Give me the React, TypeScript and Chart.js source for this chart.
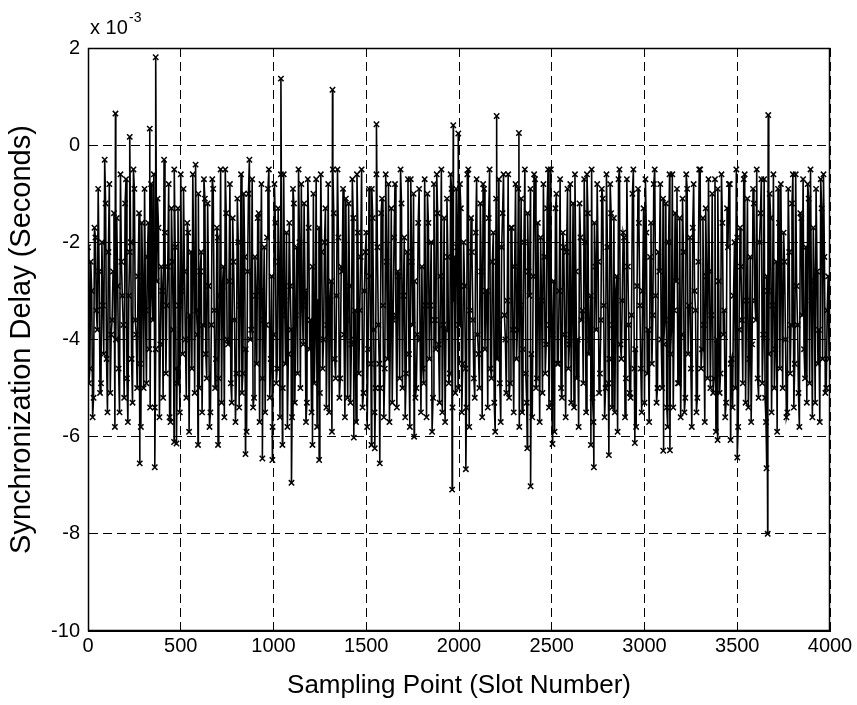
import React, { useEffect, useRef } from "react";
import { Chart, registerables } from "chart.js";

Chart.register(...registerables);

// Synchronization delay, in units of 1e-3 s.
// baseDelays: slots 0, 10, 20, ... 3990; midDelays: slots 5, 15, 25, ... 3995
const SLOT_STEP = 10;
const MID_OFFSET = 5;
const baseDelays: number[] = [
  -2.1, -4.6, -3.0, -5.2, -1.9, -3.8, -2.6, -4.9, -3.3, -0.3, -4.4, -2.2, -5.1, -3.6, -1.4, -4.0, -2.9, -5.5, -2.4, -3.7,
  -1.2, -4.8, -3.1, -2.0, -5.3, -0.9, -3.9, -2.7, -4.5, -1.6, -5.0, -3.4, -2.3, -4.2, -0.8, -3.6, -5.4, -2.8, -1.7, -4.1,
  -3.0, -0.3, -4.7, -2.5, -5.6, -1.3, -3.8, -2.1, -4.9, -3.3, -0.6, -4.3, -2.6, -5.2, -1.8, -3.5, -4.6, -2.4, -0.4, -3.9,
  -5.0, -2.2, -3.7, -1.1, -4.8, -2.9, -5.5, -0.7, -3.4, -4.4, -1.9, -3.1, -5.3, -2.5, -0.5, -4.0, -2.8, -4.9, -1.5, -3.6,
  -4.7, -2.0, -3.3, -5.1, -1.0, -4.2, -2.6, -0.3, -3.8, -5.4, -2.3, -4.5, -1.4, -3.0, -4.8, -2.1, -3.7, -0.9, -5.2, -2.7,
  -3.9, -1.6, -4.6, -2.4, -0.6, -5.0, -3.2, -1.8, -4.3, -2.9, -5.6, -1.2, -3.5, -4.7, -2.0, -0.8, -4.1, -3.0, -5.3, -1.7,
  -3.6, -2.5, -4.9, -0.7, -3.2, -5.1, -2.2, -4.0, -1.3, -3.7, -5.5, -2.8, -0.5, -4.4, -3.1, -1.9, -4.8, -2.6, -3.9, -1.1,
  -5.2, -2.9, -4.1, -1.5, -3.4, -0.6, -4.7, -2.3, -5.4, -3.0, -1.8, -4.2, -2.7, -0.9, -3.8, -5.0, -2.1, -4.5, -1.4, -3.3,
  -4.6, -2.4, -0.8, -3.9, -5.3, -1.9, -3.5, -2.6, -4.8, -1.2, -3.1, -5.6, -2.2, -4.3, -0.7, -3.7, -2.8, -5.0, -1.6, -4.0,
  -2.5, -4.9, -3.3, -1.0, -4.4, -2.0, -5.2, -3.6, -0.6, -4.1, -2.7, -5.5, -1.5, -3.8, -2.3, -4.7, -0.9, -3.2, -5.1, -2.1,
  -3.7, -1.3, -4.5, -2.9, -5.4, -0.5, -3.4, -2.2, -4.8, -1.8, -3.9, -5.0, -2.6, -0.8, -4.2, -3.0, -1.5, -4.6, -2.4, -5.3,
  -1.1, -3.6, -4.9, -2.1, -0.6, -4.0, -3.2, -5.2, -1.7, -3.8, -2.5, -4.4, -0.9, -3.3, -5.5, -2.0, -4.7, -1.4, -3.1, -4.3,
  -2.7, -0.7, -4.8, -3.5, -1.9, -5.1, -2.3, -4.1, -0.5, -3.7, -5.3, -2.8, -1.3, -4.5, -3.0, -5.0, -1.8, -3.9, -2.2, -4.6,
  -0.8, -3.4, -5.4, -2.6, -4.0, -1.2, -3.6, -4.9, -2.0, -0.6, -4.3, -3.1, -5.2, -1.6, -3.8, -2.4, -4.7, -0.9, -3.3, -5.0,
  -2.1, -4.4, -1.4, -3.7, -5.5, -2.7, -0.7, -4.1, -3.2, -1.9, -4.8, -2.5, -5.1, -3.5, -0.5, -4.2, -2.9, -1.6, -4.6, -3.0,
  -5.3, -1.8, -3.8, -2.3, -4.5, -0.8, -3.1, -5.0, -2.6, -4.0, -1.1, -3.6, -5.4, -2.0, -4.3, -0.6, -3.4, -2.8, -4.9, -1.5,
  -3.9, -2.2, -5.2, -0.9, -3.3, -4.6, -1.7, -3.0, -5.5, -2.4, -0.5, -4.2, -3.7, -1.3, -4.8, -2.6, -3.5, -5.1, -0.7, -4.0,
  -2.8, -4.7, -1.6, -3.4, -5.3, -2.1, -0.8, -4.4, -3.1, -5.0, -1.9, -3.8, -2.5, -4.9, -0.6, -3.2, -5.4, -2.3, -4.1, -1.2,
  -3.6, -4.8, -2.0, -0.7, -3.9, -5.2, -2.7, -4.3, -1.5, -3.3, -5.0, -2.4, -0.9, -4.6, -3.0, -1.8, -4.0, -5.5, -2.2, -3.7,
  -0.6, -4.5, -2.9, -5.1, -1.4, -3.5, -4.2, -2.1, -0.8, -4.9, -3.2, -1.7, -5.3, -2.6, -3.8, -0.7, -4.4, -2.3, -5.0, -2.7,
];
const midDelays: number[] = [
  -4.9, -2.4, -5.6, -1.7, -3.4, -0.9, -5.1, -2.0, -4.3, -1.2, -5.5, -0.8, -3.9, -2.6, -5.8, -1.5, -4.6, -0.6, -3.1, -5.2,
  -0.7, -5.7, -2.2, -4.4, -0.5, -3.6, -5.0, -1.4, -5.8, -2.9, -0.9, -4.9, -1.6, -5.4, -3.0, -0.6, -4.2, -1.1, -5.6, -2.5,
  -5.2, -1.8, -3.3, -0.8, -5.7, -2.4, -0.5, -4.6, -1.3, -5.5, -3.0, -0.9, -4.0, -1.6, -5.9, -2.2, -0.6, -5.1, -3.4, -1.0,
  -2.6, -5.5, -0.7, -4.3, -1.2, -5.8, -3.7, -0.9, -5.0, -1.7, -4.8, -0.5, -2.9, -5.6, -1.4, -4.1, -0.8, -5.3, -2.4, -5.7,
  -1.1, -5.4, -0.6, -4.7, -2.3, -5.9, -1.0, -4.0, -0.7, -5.2, -3.1, -1.5, -5.7, -0.8, -3.6, -5.5, -1.9, -0.5, -4.4, -5.8,
  -0.8, -4.9, -1.3, -5.6, -3.5, -0.6, -4.5, -5.8, -1.6, -3.8, -0.9, -5.3, -2.1, -0.5, -5.0, -3.3, -1.2, -5.7, -0.7, -4.2,
  -5.5, -1.0, -3.9, -5.8, -1.7, -0.6, -4.6, -2.0, -5.4, -0.8, -3.2, -5.9, -1.4, -4.8, -0.5, -5.2, -2.5, -0.9, -5.6, -3.6,
  -1.2, -5.3, -0.7, -4.0, -5.7, -1.8, -3.4, -0.5, -5.1, -2.2, -5.8, -0.9, -4.5, -1.5, -5.5, -0.6, -3.7, -5.0, -1.1, -5.6,
  -0.6, -4.4, -5.7, -1.3, -3.6, -0.8, -5.4, -2.7, -0.5, -5.0, -1.9, -4.7, -0.7, -5.8, -2.4, -1.0, -5.2, -3.9, -0.9, -5.5,
  -4.6, -0.7, -5.6, -1.6, -3.3, -5.9, -0.8, -4.2, -1.4, -5.3, -0.5, -3.7, -5.7, -1.1, -4.9, -0.6, -5.4, -2.3, -0.9, -5.0,
  -0.8, -5.5, -2.0, -4.6, -0.6, -5.8, -1.5, -3.6, -5.2, -0.7, -4.3, -1.2, -5.6, -0.9, -3.0, -5.4, -0.5, -4.8, -1.8, -5.9,
  -4.4, -0.7, -5.7, -1.4, -3.5, -5.1, -0.6, -4.9, -1.7, -5.5, -0.8, -3.8, -5.8, -1.1, -4.2, -0.5, -5.3, -2.6, -0.9, -5.6,
  -0.6, -5.0, -1.6, -5.7, -3.2, -0.8, -4.7, -1.3, -5.4, -0.5, -3.9, -5.9, -1.0, -4.5, -0.7, -5.2, -2.1, -5.6, -0.9, -4.1,
  -5.3, -1.2, -0.6, -4.8, -5.8, -1.9, -3.4, -0.7, -5.5, -1.4, -4.0, -0.5, -5.7, -2.5, -0.8, -5.1, -3.6, -1.1, -5.6, -0.6,
  -4.9, -0.8, -5.4, -1.5, -3.0, -5.9, -0.5, -4.4, -1.8, -5.6, -0.7, -3.7, -5.2, -1.0, -4.6, -5.8, -0.9, -3.3, -5.5, -1.3,
  -0.7, -4.7, -5.7, -1.6, -3.5, -0.5, -5.3, -2.2, -0.8, -5.0, -4.1, -1.2, -5.8, -0.6, -3.8, -5.4, -1.4, -0.9, -4.9, -5.6,
  -1.1, -5.5, -0.6, -4.3, -1.9, -5.8, -0.8, -3.4, -5.2, -0.5, -4.6, -1.5, -5.7, -2.7, -0.7, -5.0, -1.0, -4.8, -5.9, -0.9,
  -5.1, -0.6, -3.9, -5.6, -1.3, -0.8, -4.5, -5.4, -2.0, -0.5, -5.8, -1.7, -3.6, -0.7, -5.3, -1.1, -4.4, -5.7, -0.9, -3.2,
  -0.5, -5.2, -1.4, -4.9, -0.7, -5.7, -3.0, -1.0, -5.5, -0.6, -4.2, -5.9, -1.6, -0.8, -5.0, -2.4, -5.6, -0.9, -4.7, -1.2,
  -5.4, -0.6, -3.7, -5.8, -1.5, -0.7, -4.8, -5.3, -1.1, -0.5, -5.6, -2.8, -0.9, -4.5, -5.7, -1.3, -0.6, -5.1, -3.4, -4.4,
];

// Isolated extreme samples (slot number, delay in 1e-3 s)
const spikeSlots: number[] = [
  148, 225, 333, 365, 1040, 1318, 1555, 1969, 1996, 2203, 2323, 3667,
  279, 360, 464, 477, 593, 701, 849, 940, 994, 1048, 1097, 1210, 1246,
  1433, 1528, 1546, 1573, 1758, 1963, 2037, 2368, 2386, 2504, 2711, 2727,
  2808, 2948, 3101, 3137, 3394, 3464, 3500, 3658, 3664,
];
const spikeDelays: number[] = [
  0.65, 0.17, 0.34, 1.81, 1.37, 1.14, 0.43, 0.41, 0.24, 0.6, 0.25, 0.62,
  -6.55, -6.63, -6.11, -6.14, -6.17, -6.17, -6.36, -6.45, -6.48, -6.17, -6.95, -6.17, -6.48,
  -6.02, -6.17, -6.24, -6.55, -6.0, -7.09, -6.67, -6.24, -7.02, -6.15, -6.17, -6.63,
  -6.38, -6.13, -6.29, -6.28, -6.07, -6.07, -6.43, -6.65, -8.0,
];

const xTickValues = [0, 500, 1000, 1500, 2000, 2500, 3000, 3500, 4000];
const yTickValues = [-10, -8, -6, -4, -2, 0, 2];

const FONT = '"Liberation Sans", Arial, Helvetica, sans-serif';

const framePlugin = {
  id: "matlabFrame",
  afterDraw(chart: any) {
    const { ctx, chartArea: a } = chart;
    ctx.save();
    ctx.setLineDash([]);
    ctx.strokeStyle = "#000";
    ctx.lineWidth = 1.5;
    const l = Math.round(a.left) + 0.5;
    const t = Math.round(a.top) + 0.5;
    const r = Math.round(a.right) - 0.5;
    const b = Math.round(a.bottom) - 0.5;
    ctx.strokeRect(l, t, r - l, b - t);
    ctx.fillStyle = "#000";
    ctx.textAlign = "left";
    ctx.textBaseline = "alphabetic";
    ctx.font = `20px ${FONT}`;
    ctx.fillText("x 10", a.left + 2, a.top - 14);
    ctx.font = `14px ${FONT}`;
    ctx.fillText("-3", a.left + 41, a.top - 26);
    ctx.restore();
  },
};

export default function App() {
  const canvasRef = useRef<HTMLCanvasElement | null>(null);

  useEffect(() => {
    document.body.style.margin = "0";
    const canvas = canvasRef.current;
    if (!canvas) return;

    const points = baseDelays
      .map((v, i) => ({ x: i * SLOT_STEP, y: v }))
      .concat(midDelays.map((v, i) => ({ x: i * SLOT_STEP + MID_OFFSET, y: v })))
      .concat(spikeSlots.map((s, i) => ({ x: s, y: spikeDelays[i] })))
      .sort((p, q) => p.x - q.x);

    const chart = new Chart(canvas, {
      type: "line",
      data: {
        datasets: [
          {
            data: points,
            borderColor: "#000",
            borderWidth: 1.6,
            pointStyle: "crossRot",
            pointRadius: 3.8,
            pointBorderWidth: 1.5,
            pointBorderColor: "#000",
            pointBackgroundColor: "#000",
            tension: 0,
            fill: false,
          },
        ],
      },
      options: {
        animation: false,
        responsive: false,
        maintainAspectRatio: false,
        events: [],
        layout: { padding: { left: 0, right: 27, top: 48, bottom: 0 } },
        plugins: {
          legend: { display: false },
          tooltip: { enabled: false },
          title: { display: false },
        },
        scales: {
          x: {
            type: "linear",
            min: 0,
            max: 4000,
            afterBuildTicks: (scale: any) => {
              scale.ticks = xTickValues.map((v) => ({ value: v }));
            },
            afterFit: (scale: any) => {
              scale.height = 74;
            },
            grid: { color: "#000", lineWidth: 1, drawTicks: false },
            border: { display: true, color: "#000", width: 1, dash: [9, 5] },
            ticks: {
              color: "#000",
              padding: 3,
              font: { family: FONT, size: 20 },
              maxRotation: 0,
              callback: (v: any) => String(v),
            },
            title: {
              display: true,
              text: "Sampling Point (Slot Number)",
              color: "#000",
              font: { family: FONT, size: 26 },
              padding: { top: 0, bottom: 4 },
            },
          },
          y: {
            type: "linear",
            min: -10,
            max: 2,
            afterBuildTicks: (scale: any) => {
              scale.ticks = yTickValues.map((v) => ({ value: v }));
            },
            afterFit: (scale: any) => {
              scale.width = 88;
            },
            grid: { color: "#000", lineWidth: 1, drawTicks: false },
            border: { display: true, color: "#000", width: 1, dash: [9, 5] },
            ticks: {
              color: "#000",
              padding: 8,
              font: { family: FONT, size: 20 },
              callback: (v: any) => String(v),
            },
            title: {
              display: true,
              text: "Synchronization Delay (Seconds)",
              color: "#000",
              font: { family: FONT, size: 29 },
              padding: { top: 5, bottom: 0 },
            },
          },
        },
      },
      plugins: [framePlugin],
    });

    return () => chart.destroy();
  }, []);

  return (
    <div style={{ width: 857, height: 705, background: "#fff" }}>
      <canvas ref={canvasRef} width={857} height={705} style={{ display: "block" }} />
    </div>
  );
}
